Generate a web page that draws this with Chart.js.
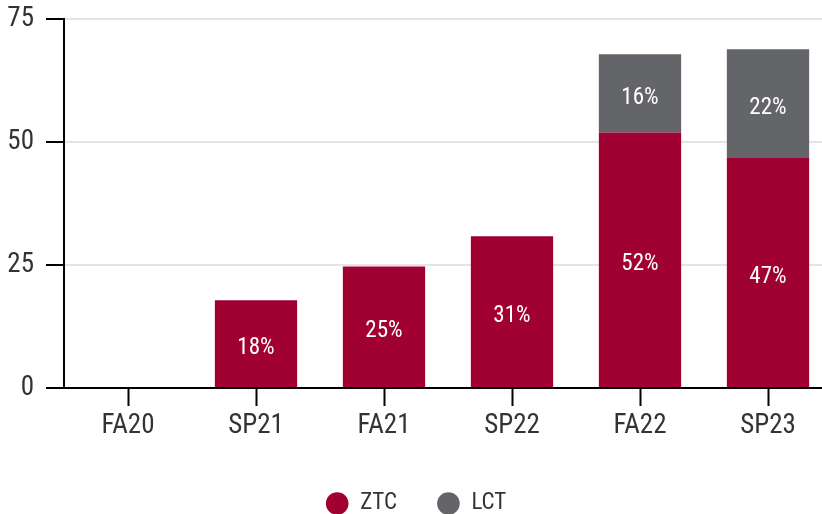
<!DOCTYPE html>
<html>
<head>
<meta charset="utf-8">
<script src="https://cdn.jsdelivr.net/npm/chart.js@4/dist/chart.umd.min.js"></script>
<style>
  html, body { margin: 0; padding: 0; overflow: hidden; background: #fff; }
  #wrap { width: 832px; height: 525px; }
</style>
</head>
<body>
<div id="wrap"><canvas id="chart" width="832" height="525"></canvas></div>
<script>
const terms = ['FA20', 'SP21', 'FA21', 'SP22', 'FA22', 'SP23'];
const ztcValues = [0, 17.8, 24.7, 30.8, 51.9, 46.7];
const lctValues = [0, 0, 0, 0, 15.9, 22.1];
const yTicks = [0, 25, 50, 75];

const FONT = "'Liberation Sans Narrow', 'Roboto Condensed', Roboto, sans-serif";
const TEXT = '#333333';

// white percent labels in the middle of each segment
const barLabels = {
  id: 'barLabels',
  afterDatasetsDraw(chart) {
    const ctx = chart.ctx;
    ctx.save();
    ctx.font = '23px ' + FONT;
    ctx.fillStyle = '#ffffff';
    ctx.textAlign = 'center';
    ctx.textBaseline = 'middle';
    chart.data.datasets.forEach((ds, i) => {
      chart.getDatasetMeta(i).data.forEach((bar, j) => {
        const v = ds.data[j];
        if (!v) return;
        ctx.fillText(Math.round(v) + '%', bar.x, (bar.y + bar.base) / 2 + 5);
      });
    });
    ctx.restore();
  }
};

new Chart(document.getElementById('chart'), {
  type: 'bar',
  data: {
    labels: terms,
    datasets: [
      { label: 'ZTC', data: ztcValues, backgroundColor: '#A00032', borderWidth: 0 },
      { label: 'LCT', data: lctValues, backgroundColor: '#646568', borderWidth: 0 }
    ]
  },
  options: {
    responsive: false,
    animation: false,
    barPercentage: 0.643,
    categoryPercentage: 1,
    layout: { padding: { top: 8, left: 0, right: 0, bottom: 0 } },
    plugins: {
      tooltip: { enabled: false },
      legend: {
        position: 'bottom',
        labels: {
          usePointStyle: true,
          pointStyle: 'circle',
          boxWidth: 23,
          boxHeight: 16,
          padding: 40,
          color: TEXT,
          font: { family: FONT, size: 23 }
        }
      }
    },
    scales: {
      x: {
        stacked: true,
        border: { color: '#000', width: 2 },
        grid: { offset: false, drawOnChartArea: false, tickLength: 18, tickColor: '#000', tickWidth: 2 },
        ticks: { color: TEXT, padding: 4, font: { family: FONT, size: 27 } },
        afterFit: s => { s.height = 64; }
      },
      y: {
        stacked: true,
        min: 0,
        max: 75,
        border: { color: '#000', width: 2 },
        grid: { color: '#e4e4e4', lineWidth: 2, tickLength: 18, tickColor: '#000', tickWidth: 2 },
        afterBuildTicks: s => { s.ticks = yTicks.map(v => ({ value: v })); },
        ticks: { color: TEXT, padding: 12, font: { family: FONT, size: 27, lineHeight: 0.5 } },
        afterFit: s => { s.width = 64; }
      }
    }
  },
  plugins: [barLabels]
});
</script>
</body>
</html>
